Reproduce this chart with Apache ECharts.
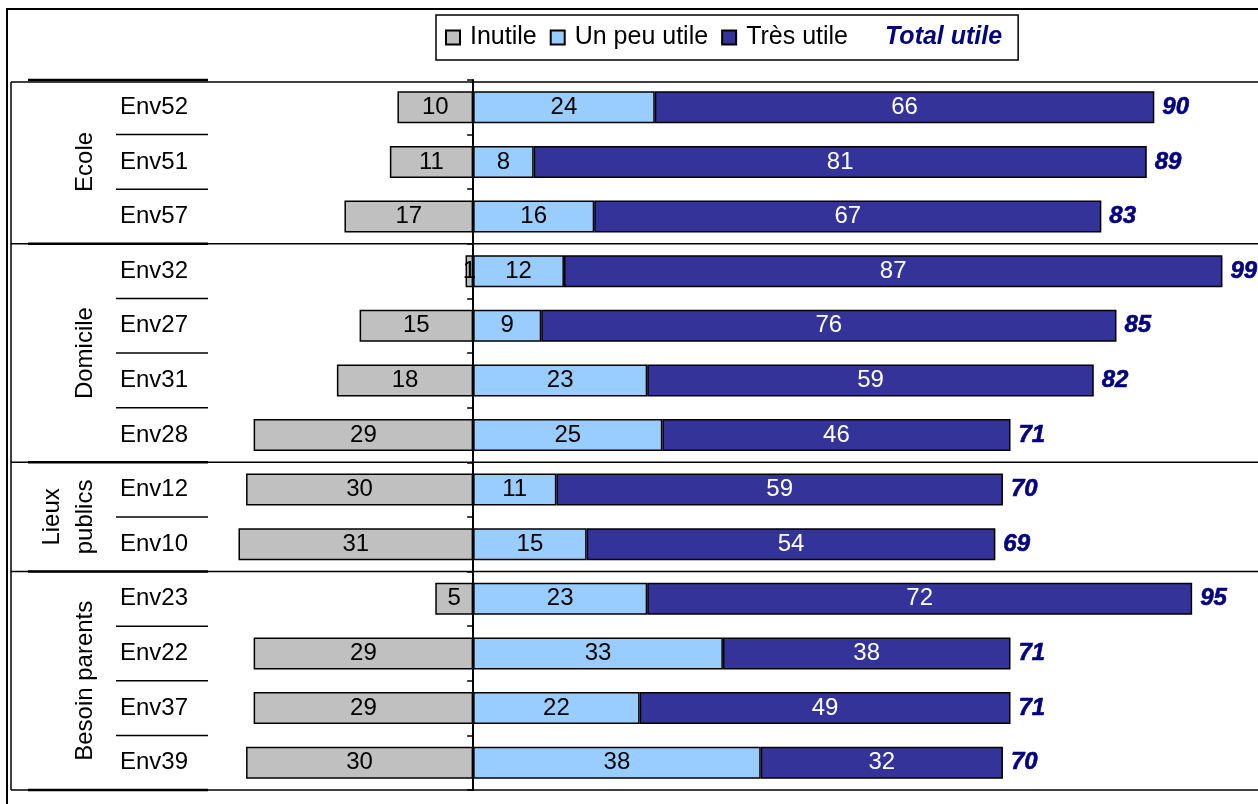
<!DOCTYPE html>
<html>
<head>
<meta charset="utf-8">
<style>
  html, body { margin: 0; padding: 0; background: #fff; }
  #chart { width: 1258px; height: 804px; }
</style>
<script src="https://cdn.jsdelivr.net/npm/echarts@6/dist/echarts.min.js"></script>
</head>
<body>
<div id="chart"></div>
<script>
// Survey items, top to bottom
const categories = ['Env52', 'Env51', 'Env57', 'Env32', 'Env27', 'Env31', 'Env28',
                    'Env12', 'Env10', 'Env23', 'Env22', 'Env37', 'Env39'];
// Share of answers (%)
const inutile    = [10, 11, 17, 1, 15, 18, 29, 30, 31, 5, 29, 29, 30];
const unPeuUtile = [24, 8, 16, 12, 9, 23, 25, 11, 15, 23, 33, 22, 38];
const tresUtile  = [66, 81, 67, 87, 76, 59, 46, 59, 54, 72, 38, 49, 32];
const totalUtile = [90, 89, 83, 99, 85, 82, 71, 70, 69, 95, 71, 71, 70];
// Item groups: label, first row, number of rows
const groupNames  = ['Ecole', 'Domicile', 'Lieux\npublics', 'Besoin parents'];
const groupStarts = [0, 3, 7, 9];
const groupSizes  = [3, 4, 2, 4];

const FONT = '"Liberation Sans", Arial, sans-serif';
const GRAY = '#C0C0C0', LIGHT = '#99CCFF', DARK = '#333399', NAVY = '#000080';

const chart = echarts.init(document.getElementById('chart'), null, { renderer: 'canvas' });

const barLabel = (color) => ({
  show: true,
  position: 'inside',
  color: color,
  fontFamily: FONT,
  fontSize: 24,
  formatter: p => Math.abs(p.value)
});
const barStyle = (color) => ({ color: color, borderColor: '#000', borderWidth: 1.5 });

chart.setOption({
  animation: false,
  backgroundColor: '#fff',
  textStyle: { fontFamily: FONT },
  legend: {
    left: 436,
    top: 15,
    padding: [10, 16, 10, 9],
    borderColor: '#000',
    borderWidth: 1.5,
    itemGap: 13,
    itemWidth: 14,
    itemHeight: 14,
    textStyle: { fontFamily: FONT, fontSize: 25, color: '#000', padding: [0, 0, 0, 5] },
    data: [
      { name: 'Inutile', icon: 'rect' },
      { name: 'Un peu utile', icon: 'rect' },
      { name: 'Très utile', icon: 'rect' },
      { name: 'Total utile', icon: 'none',
        textStyle: { fontWeight: 'bold', fontStyle: 'italic', color: NAVY } }
    ]
  },
  grid: {
    left: 19,
    top: 80,
    width: 1211,
    height: 710,
    containLabel: false,
    outerBoundsMode: 'none'
  },
  xAxis: {
    type: 'value',
    min: -60,
    max: 100,
    show: false
  },
  yAxis: {
    type: 'category',
    inverse: true,
    data: categories,
    axisLine: { onZero: true, lineStyle: { color: '#000', width: 2 } },
    axisTick: { show: true, length: 6, lineStyle: { color: '#000', width: 1.5 } },
    axisLabel: { show: false },
    splitLine: { show: false }
  },
  series: [
    {
      name: 'Inutile', type: 'bar', stack: 'all', barWidth: 32,
      data: inutile.map(v => -v),
      itemStyle: barStyle(GRAY),
      label: barLabel('#000')
    },
    {
      name: 'Un peu utile', type: 'bar', stack: 'all', barWidth: 32,
      data: unPeuUtile,
      itemStyle: barStyle(LIGHT),
      label: barLabel('#000')
    },
    {
      name: 'Très utile', type: 'bar', stack: 'all', barWidth: 32,
      data: tresUtile,
      itemStyle: barStyle(DARK),
      label: barLabel('#fff')
    },
    {
      name: 'Total utile', type: 'scatter',
      symbolSize: 0,
      itemStyle: { color: NAVY, opacity: 1 },
      data: totalUtile.map((t, i) => [t, categories[i]]),
      label: {
        show: true,
        position: 'right',
        distance: 8,
        color: NAVY,
        opacity: 1,
        fontFamily: FONT,
        fontSize: 24,
        fontWeight: 'bold',
        fontStyle: 'italic',
        textBorderColor: NAVY,
        textBorderWidth: 0.6,
        formatter: p => p.value[0]
      },
      emphasis: { disabled: true },
      z: 5
    }
  ]
});

// Frame, group separators, item names and group titles placed from the category axis
const yc = c => chart.convertToPixel({ yAxisIndex: 0 }, c);
const band = yc(categories[1]) - yc(categories[0]);
const boundary = i => yc(categories[0]) + (i - 0.5) * band;

const graphics = [];
const line = (x1, y1, x2, y2, w) => graphics.push({
  type: 'line', silent: true, z: 10,
  shape: { x1, y1, x2, y2 },
  style: { stroke: '#000', lineWidth: w }
});

// outer frame
graphics.push({
  type: 'rect', silent: true, z: 10,
  shape: { x: 7, y: 9, width: 1300, height: 900 },
  style: { fill: null, stroke: '#000', lineWidth: 2 }
});
// inner panel left edge
line(11, boundary(0) + 2, 11, boundary(categories.length), 1.5);

const groupEdges = new Set();
groupStarts.forEach((s, g) => { groupEdges.add(s); groupEdges.add(s + groupSizes[g]); });

for (let i = 0; i <= categories.length; i++) {
  const y = boundary(i);
  if (groupEdges.has(i)) {
    line(11, i === 0 ? y + 2 : y, 1258, i === 0 ? y + 2 : y, 1.5);
    line(28, y, 208, y, 2.5);
  } else {
    line(116, y, 208, y, 1.5);
  }
}

// item names
categories.forEach(c => {
  graphics.push({
    type: 'text', silent: true, z: 10,
    x: 120, y: yc(c),
    style: {
      text: c, x: 0, y: 0,
      font: '24px ' + FONT,
      fill: '#000',
      align: 'left',
      verticalAlign: 'middle'
    }
  });
});

// group titles, reading upwards
groupNames.forEach((name, g) => {
  const yMid = (boundary(groupStarts[g]) + boundary(groupStarts[g] + groupSizes[g])) / 2;
  const twoLines = name.indexOf('\n') >= 0;
  graphics.push({
    type: 'text', silent: true, z: 10,
    x: twoLines ? 69 : 85,
    y: yMid,
    rotation: Math.PI / 2,
    style: {
      text: name,
      x: 0, y: 0,
      font: '24px ' + FONT,
      fill: '#000',
      align: 'center',
      verticalAlign: 'middle',
      lineHeight: 33
    }
  });
});

chart.setOption({ graphic: graphics });
</script>
</body>
</html>
